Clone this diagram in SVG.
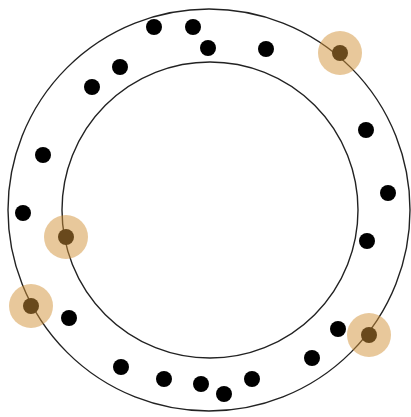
<svg xmlns="http://www.w3.org/2000/svg" width="411" height="417" viewBox="0 0 411 417">
<style>
.ring{fill:none;stroke:#222;stroke-width:1.4}
.dot{fill:#000}
.hl{fill:#d29137;fill-opacity:0.5}
</style>
<rect width="411" height="417" fill="#fff"/>
<g id="rings">
<circle class="ring" cx="209" cy="210" r="201"/>
<circle class="ring" cx="210" cy="210" r="148"/>
</g>
<g id="dots">
<circle class="dot" cx="154" cy="27" r="8"/>
<circle class="dot" cx="193" cy="27" r="8"/>
<circle class="dot" cx="208" cy="48" r="8"/>
<circle class="dot" cx="266" cy="49" r="8"/>
<circle class="dot" cx="120" cy="67" r="8"/>
<circle class="dot" cx="92" cy="87" r="8"/>
<circle class="dot" cx="366" cy="130" r="8"/>
<circle class="dot" cx="43" cy="155" r="8"/>
<circle class="dot" cx="388" cy="193" r="8"/>
<circle class="dot" cx="23" cy="213" r="8"/>
<circle class="dot" cx="367" cy="241" r="8"/>
<circle class="dot" cx="69" cy="318" r="8"/>
<circle class="dot" cx="338" cy="329" r="8"/>
<circle class="dot" cx="312" cy="358" r="8"/>
<circle class="dot" cx="121" cy="367" r="8"/>
<circle class="dot" cx="164" cy="379" r="8"/>
<circle class="dot" cx="201" cy="384" r="8"/>
<circle class="dot" cx="224" cy="394" r="8"/>
<circle class="dot" cx="252" cy="379" r="8"/>
<circle class="dot" cx="340" cy="53" r="8"/>
<circle class="dot" cx="66" cy="237" r="8"/>
<circle class="dot" cx="31" cy="306" r="8"/>
<circle class="dot" cx="369" cy="335" r="8"/>
</g>
<g id="highlights">
<circle class="hl" cx="340" cy="53" r="22"/>
<circle class="hl" cx="66" cy="237" r="22"/>
<circle class="hl" cx="31" cy="306" r="22"/>
<circle class="hl" cx="369" cy="335" r="22"/>
</g>
</svg>
